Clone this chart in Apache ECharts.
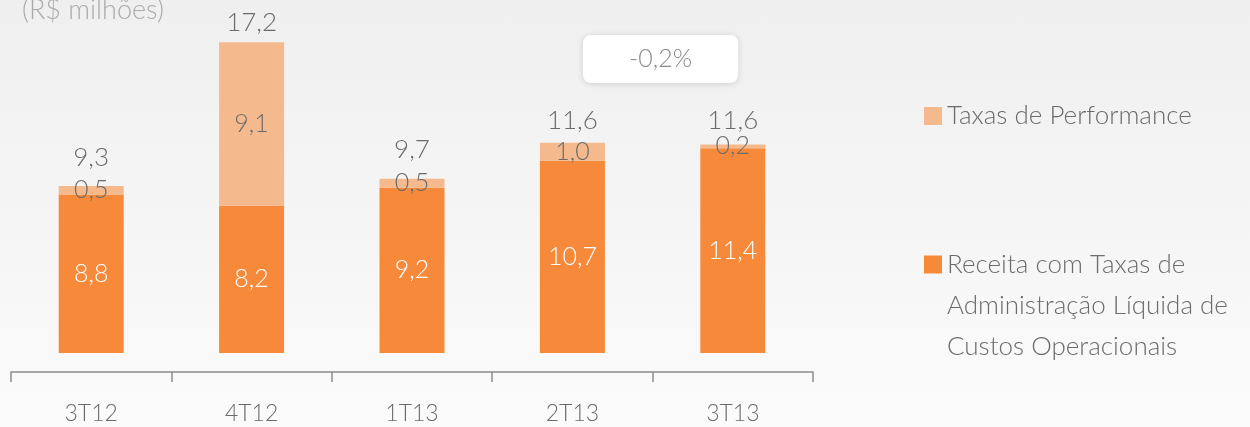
<!DOCTYPE html>
<html>
<head>
<meta charset="utf-8">
<script src="https://cdn.jsdelivr.net/npm/echarts@6/dist/echarts.min.js"></script>
<style>
  html, body { margin: 0; padding: 0; }
  body { background: linear-gradient(#efefef, #fbfbfb); }
  #main { width: 1250px; height: 427px; }
</style>
</head>
<body>
<div id="main"></div>
<script>
// dados (R$ milhões)
var categories = ['3T12', '4T12', '1T13', '2T13', '3T13'];
var receitaAdm = [8.8, 8.2, 9.2, 10.7, 11.4];
var taxasPerf = [0.5, 9.1, 0.5, 1.0, 0.2];
var totais = [9.3, 17.2, 9.7, 11.6, 11.6];
var variacao = '-0,2%';

var FONT = 'Lato';
// distancia do rótulo de total até o topo da barra
var totalGap = [15, 7, 16, 9, 11];
var fmt = function (v) { return v.toFixed(1).replace('.', ','); };

var chart = echarts.init(document.getElementById('main'));
chart.setOption({
  backgroundColor: 'transparent',
  animation: false,
  title: [
    {
      text: '(R$ milhões)',
      left: 17, top: -8,
      textStyle: { color: '#ababab', fontSize: 27, fontWeight: 300, fontFamily: FONT }
    },
    {
      text: variacao,
      left: 583, top: 35,
      padding: [10, 46, 10, 46],
      backgroundColor: '#ffffff',
      borderRadius: 8,
      shadowBlur: 6,
      shadowColor: 'rgba(0,0,0,0.14)',
      shadowOffsetY: 1,
      textStyle: { color: '#8a8a8a', fontSize: 25, fontWeight: 300, fontFamily: FONT, lineHeight: 28 }
    }
  ],
  legend: [
    {
      data: ['Taxas de Performance'],
      left: 919, top: 98,
      itemWidth: 18, itemHeight: 18,
      icon: 'rect',
      textStyle: { color: '#6b6b6b', fontSize: 26, fontWeight: 300, fontFamily: FONT }
    },
    {
      data: ['Receita com Taxas de Administração Líquida de Custos Operacionais'],
      left: 919, top: 157,
      itemWidth: 18, itemHeight: 18,
      icon: 'rect',
      formatter: function () {
        return ' \n \nReceita com Taxas de\nAdministração Líquida de\nCustos Operacionais';
      },
      textStyle: {
        color: '#6b6b6b', fontSize: 26, fontWeight: 300, fontFamily: FONT,
        lineHeight: 41
      }
    }
  ],
  grid: { left: 11, right: 437, top: 29.6, bottom: 74, containLabel: false },
  xAxis: {
    type: 'category',
    data: categories,
    offset: 19,
    axisLine: { onZero: false, lineStyle: { color: '#8c8c8c', width: 1.5 } },
    axisTick: { show: true, length: 10, lineStyle: { color: '#8c8c8c', width: 1.5 } },
    axisLabel: { color: '#6b6b6b', fontSize: 23, fontWeight: 300, fontFamily: FONT, margin: 30 }
  },
  yAxis: { type: 'value', min: 0, max: 18, show: false },
  series: [
    {
      name: 'Receita com Taxas de Administração Líquida de Custos Operacionais',
      type: 'bar', stack: 'total', barWidth: 65,
      data: receitaAdm,
      itemStyle: { color: '#f68a3a' },
      label: {
        show: true, position: 'inside',
        color: '#ffffff', fontSize: 25, fontWeight: 300, fontFamily: FONT,
        formatter: function (p) { return fmt(p.value); }
      }
    },
    {
      name: 'Taxas de Performance',
      type: 'bar', stack: 'total', barWidth: 65,
      data: taxasPerf,
      itemStyle: { color: '#f4b98c' },
      label: {
        show: true, position: 'inside',
        color: '#6b6b6b', fontSize: 25, fontWeight: 300, fontFamily: FONT,
        formatter: function (p) { return fmt(p.value); }
      }
    },
    {
      name: 'Total',
      type: 'bar', stack: 'total', barWidth: 65,
      data: totais.map(function (v, i) {
        return { value: 0, label: { distance: totalGap[i] } };
      }),
      itemStyle: { color: 'transparent' },
      label: {
        show: true, position: 'top',
        color: '#6b6b6b', fontSize: 26, fontWeight: 300, fontFamily: FONT,
        formatter: function (p) { return fmt(totais[p.dataIndex]); }
      }
    }
  ]
});
</script>
</body>
</html>
